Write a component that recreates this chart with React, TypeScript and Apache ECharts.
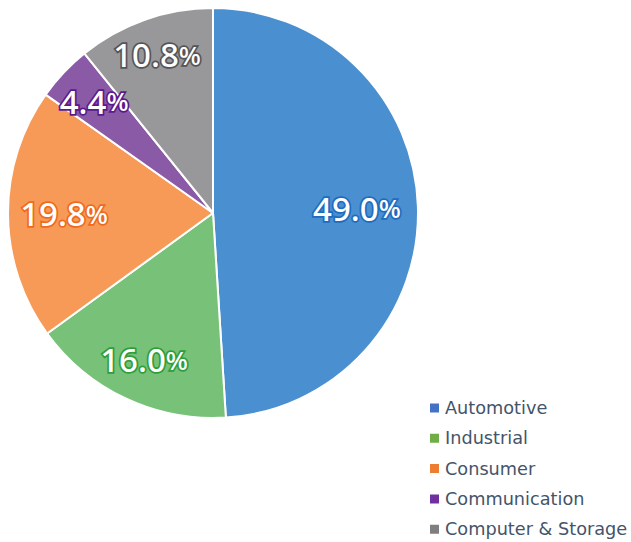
import React, { useEffect, useRef } from "react";
import * as echarts from "echarts";

const categories = ["Automotive", "Industrial", "Consumer", "Communication", "Computer & Storage"];
const shares = [49.0, 16.0, 19.8, 4.4, 10.8];
const sliceColors = ["#4a8fd0", "#77c278", "#f79a57", "#8a5aa7", "#98989a"];
const labelOutline = ["#1e6cc0", "#2f9e3a", "#ef6a1c", "#5b1a8c", "#555558"];
const legendColors = ["#4472c4", "#70ad47", "#ed7d31", "#7030a0", "#7f7f7f"];
const labelRadius = [144, 162, 149, 163, 168];

const CX = 213;
const CY = 213;

export default function App() {
  const ref = useRef<HTMLDivElement>(null);
  useEffect(() => {
    if (!ref.current) return;
    const chart = echarts.init(ref.current, null, { renderer: "svg" });
    chart.setOption({
      animation: false,
      legend: {
        orient: "vertical",
        left: 428,
        top: 398,
        padding: 0,
        itemWidth: 11,
        itemHeight: 11,
        itemGap: 10.3,
        icon: "rect",
        selectedMode: false,
        textStyle: {
          fontFamily: "DejaVu Sans",
          fontSize: 17.7,
          color: "#44546a",
          lineHeight: 20,
        },
        data: categories.map((name, i) => ({
          name,
          itemStyle: { color: legendColors[i] },
        })),
      },
      series: [
        {
          type: "pie",
          center: [CX, CY],
          radius: [0, 205],
          startAngle: 90,
          clockwise: true,
          silent: true,
          itemStyle: { borderColor: "#ffffff", borderWidth: 2 },
          label: {
            show: true,
            position: "inside",
            color: "#ffffff",
            textBorderWidth: 3.5,
            fontFamily: "Noto Sans",
            formatter: (p: any) => `{n|${p.value.toFixed(1)}}{p|%}`,
            rich: {
              n: { fontSize: 33, fontFamily: "Noto Sans", fontWeight: 500, color: "#ffffff" },
              p: { fontSize: 26, fontFamily: "Noto Sans", fontWeight: 500, color: "#ffffff" },
            },
          },
          labelLine: { show: false },
          labelLayout: (params: any) => {
            const r = params.labelRect;
            const lx = r.x + r.width / 2;
            const ly = r.y + r.height / 2;
            const vx = lx - CX;
            const vy = ly - CY;
            const len = Math.sqrt(vx * vx + vy * vy) || 1;
            const target = labelRadius[params.dataIndex];
            return {
              dx: (vx / len) * (target - len),
              dy: (vy / len) * (target - len),
            };
          },
          data: categories.map((name, i) => ({
            name,
            value: shares[i],
            itemStyle: { color: sliceColors[i] },
            label: { textBorderColor: labelOutline[i] },
          })),
        },
      ],
    });
    return () => chart.dispose();
  }, []);
  return (
    <div
      ref={ref}
      style={{ position: "fixed", left: 0, top: 0, width: 631, height: 542, background: "#ffffff" }}
    />
  );
}
